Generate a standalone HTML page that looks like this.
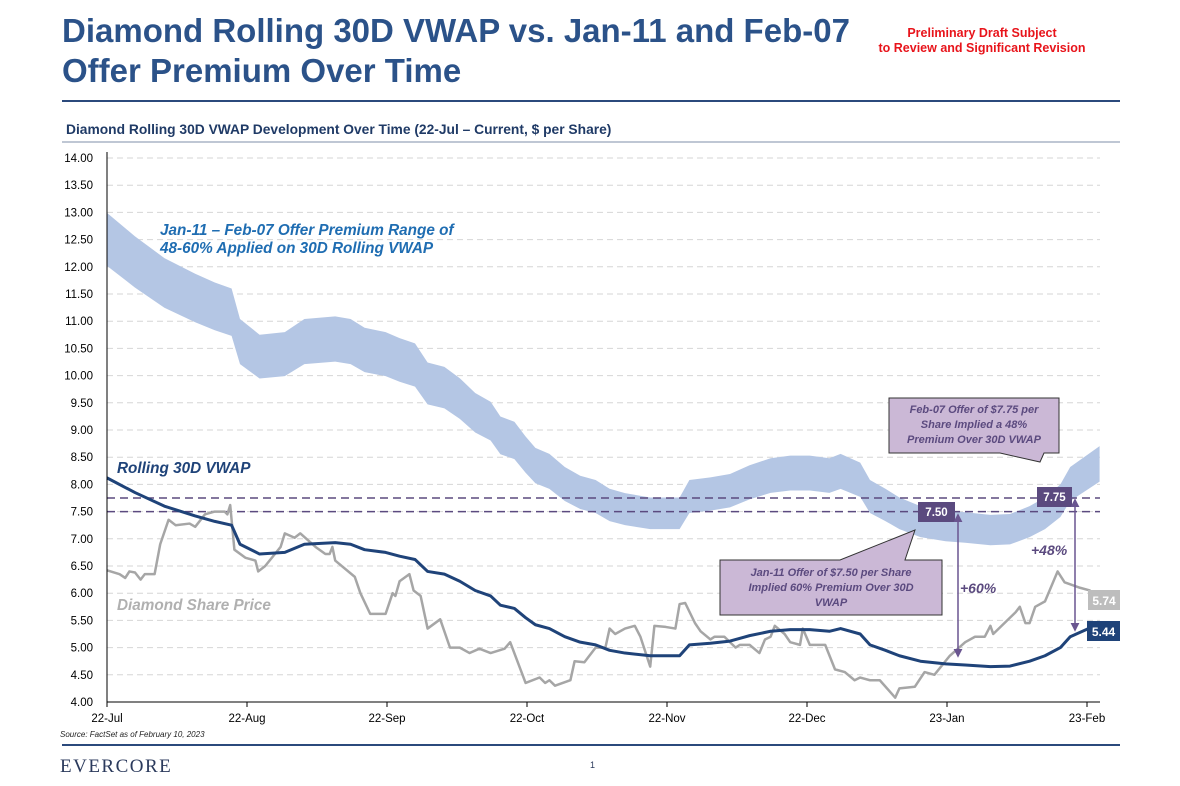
<!DOCTYPE html>
<html><head><meta charset="utf-8"><style>
body{margin:0;background:#fff;font-family:"Liberation Sans",Arial,sans-serif;}
#wrap{position:relative;width:1180px;height:786px;overflow:hidden;}
</style></head><body>
<div id="wrap">
<svg id="svg" width="1180" height="786" xmlns="http://www.w3.org/2000/svg" font-family="Liberation Sans, Arial, sans-serif">
<text x="62" y="42" font-size="33" font-weight="bold" fill="#2b5289">Diamond Rolling 30D VWAP vs. Jan-11 and Feb-07</text>
<text x="62" y="82" font-size="33" font-weight="bold" fill="#2b5289">Offer Premium Over Time</text>
<text x="982" y="37" font-size="12.5" font-weight="bold" fill="#e8141b" text-anchor="middle">Preliminary Draft Subject</text>
<text x="982" y="52" font-size="12.5" font-weight="bold" fill="#e8141b" text-anchor="middle">to Review and Significant Revision</text>
<line x1="62" y1="101" x2="1120" y2="101" stroke="#2b4a7c" stroke-width="2"/>
<text x="66" y="134" font-size="13.8" font-weight="bold" fill="#1f3a66">Diamond Rolling 30D VWAP Development Over Time (22-Jul – Current, $ per Share)</text>
<line x1="62" y1="142" x2="1120" y2="142" stroke="#7f8fa8" stroke-width="1"/>
<g id="grid"></g><g id="band"></g><g id="lines"></g><g id="axes"></g><g id="ann"></g>
<text x="60" y="737" font-size="8" font-style="italic" fill="#222">Source: FactSet as of February 10, 2023</text>
<line x1="62" y1="745" x2="1120" y2="745" stroke="#2b4a7c" stroke-width="2"/>
<text x="60" y="772" font-size="19" font-family="Liberation Serif, serif" letter-spacing="1.5" fill="#2b3a5c">EVERCORE</text>
<text x="590" y="768" font-size="9" fill="#2b3a5c">1</text>
</svg>
</div>
<script>
const tickLabels=["22-Jul","22-Aug","22-Sep","22-Oct","22-Nov","22-Dec","23-Jan","23-Feb"];
const yTicks=[4,4.5,5,5.5,6,6.5,7,7.5,8,8.5,9,9.5,10,10.5,11,11.5,12,12.5,13,13.5,14];
const vwapT=[0,.2,.41,.63,.77,.89,.95,1.09,1.27,1.41,1.63,1.74,1.84,1.99,2.09,2.2,2.29,2.41,2.52,2.63,2.74,2.81,2.91,2.99,3.06,3.16,3.27,3.38,3.49,3.59,3.7,3.88,4.09,4.16,4.31,4.45,4.59,4.74,4.88,5.02,5.16,5.24,5.38,5.45,5.56,5.66,5.81,5.99,6.13,6.31,6.45,6.59,6.7,6.81,6.88,7.09];
const vwapV=[8.12,7.85,7.6,7.42,7.32,7.25,6.9,6.72,6.75,6.9,6.93,6.9,6.8,6.75,6.68,6.62,6.4,6.35,6.22,6.05,5.95,5.78,5.72,5.55,5.42,5.35,5.2,5.1,5.05,4.95,4.9,4.85,4.85,5.05,5.08,5.12,5.22,5.3,5.33,5.33,5.3,5.35,5.25,5.05,4.95,4.85,4.75,4.7,4.68,4.65,4.66,4.75,4.85,5.0,5.2,5.44];
const priceT=[0,.09,.13,.16,.2,.24,.27,.34,.38,.44,.49,.59,.63,.7,.77,.84,.86,.88,.91,.99,1.06,1.08,1.13,1.24,1.27,1.34,1.38,1.49,1.56,1.59,1.61,1.63,1.77,1.81,1.88,1.99,2.04,2.06,2.09,2.16,2.19,2.24,2.29,2.38,2.45,2.52,2.59,2.66,2.74,2.84,2.88,2.99,3.09,3.13,3.16,3.2,3.31,3.34,3.41,3.49,3.56,3.59,3.63,3.7,3.77,3.81,3.88,3.91,3.99,4.06,4.09,4.13,4.2,4.24,4.31,4.34,4.41,4.49,4.52,4.59,4.66,4.7,4.74,4.77,4.84,4.88,4.95,4.97,5.02,5.13,5.2,5.27,5.34,5.38,5.45,5.52,5.63,5.66,5.77,5.84,5.91,6.02,6.13,6.2,6.27,6.31,6.33,6.41,6.49,6.52,6.56,6.59,6.63,6.7,6.79,6.84,6.95,7.02,7.09];
const priceV=[6.42,6.35,6.28,6.4,6.38,6.25,6.35,6.35,6.9,7.35,7.25,7.28,7.22,7.45,7.5,7.5,7.45,7.62,6.8,6.65,6.6,6.4,6.5,6.85,7.1,7.02,7.1,6.85,6.72,6.72,6.85,6.6,6.3,6.0,5.62,5.62,6.0,5.95,6.22,6.35,6.05,5.95,5.35,5.52,5.0,5.0,4.9,4.98,4.9,4.98,5.1,4.35,4.45,4.35,4.4,4.3,4.4,4.75,4.73,5.0,5.0,5.35,5.25,5.35,5.4,5.2,4.65,5.4,5.38,5.35,5.8,5.82,5.45,5.3,5.15,5.2,5.2,5.0,5.05,5.05,4.9,5.15,5.2,5.4,5.25,5.1,5.05,5.35,5.05,5.05,4.6,4.55,4.4,4.45,4.4,4.4,4.08,4.25,4.28,4.55,4.5,4.85,5.1,5.2,5.2,5.4,5.25,5.45,5.65,5.75,5.45,5.45,5.75,5.85,6.4,6.2,6.1,6.05,5.74];
const premiumLow=0.48, premiumHigh=0.60;
const offers=[7.50,7.75];

const NS="http://www.w3.org/2000/svg";
const X0=107,XW=140,Y0=702,YS=54.4;
const xs=t=>X0+t*XW, ys=v=>Y0-(v-4)*YS;
function mk(tag,attrs,parent,text){const e=document.createElementNS(NS,tag);for(const k in attrs)e.setAttribute(k,attrs[k]);if(text!==undefined)e.textContent=text;document.getElementById(parent).appendChild(e);return e;}
yTicks.forEach(v=>{
  if(v>4){const g=mk('line',{x1:X0,x2:1100,y1:ys(v),y2:ys(v),stroke:'#d6d6d6','stroke-dasharray':'6,4'},'grid');
  
  }
  const l=mk('text',{x:93,y:ys(v)+4,'font-size':11.5,'text-anchor':'end',fill:'#000'},'axes',v.toFixed(2));
  
  
});
const ax=mk('line',{x1:X0,x2:X0,y1:152,y2:Y0,stroke:'#000','stroke-width':1},'axes');


const bx=mk('line',{x1:X0,x2:1100,y1:Y0,y2:Y0,stroke:'#000','stroke-width':1},'axes');


tickLabels.forEach((s,i)=>{
  mk('line',{x1:xs(i),x2:xs(i),y1:Y0,y2:Y0+5,stroke:'#000'},'axes');
  const l=mk('text',{x:xs(i),y:Y0+20,'font-size':11.5,'text-anchor':'middle',fill:'#000'},'axes',s);
  
  
});
let up=vwapT.map((t,i)=>xs(t)+','+ys(vwapV[i]*(1+premiumHigh)));
let lo=vwapT.map((t,i)=>xs(t)+','+ys(vwapV[i]*(1+premiumLow))).reverse();
const band=mk('polygon',{points:up.concat(lo).join(' '),fill:'#b4c6e4'},'band');


offers.forEach(o=>{
  const d=mk('line',{x1:X0,x2:1100,y1:ys(o),y2:ys(o),stroke:'#5b4a7f','stroke-width':1.5,'stroke-dasharray':'8,5'},'lines');
  
  
});
const pl=mk('polyline',{points:priceT.map((t,i)=>xs(t)+','+ys(priceV[i])).join(' '),fill:'none',stroke:'#a6a6a6','stroke-width':2.5,'stroke-linejoin':'round'},'lines');


const vl=mk('polyline',{points:vwapT.map((t,i)=>xs(t)+','+ys(vwapV[i])).join(' '),fill:'none',stroke:'#1f4379','stroke-width':3,'stroke-linejoin':'round'},'lines');


</script>
<svg style="position:absolute;left:0;top:0" width="1180" height="786" xmlns="http://www.w3.org/2000/svg" font-family="Liberation Sans, Arial, sans-serif">
<defs><marker id="ar" viewBox="0 0 10 10" refX="8" refY="5" markerWidth="6" markerHeight="6" orient="auto-start-reverse"><path d="M0,0 L10,5 L0,10 z" fill="#6a5590"/></marker></defs>
<text x="160" y="235" font-size="15.3" font-weight="bold" font-style="italic" fill="#1f6db2">Jan-11 – Feb-07 Offer Premium Range of</text>
<text x="160" y="253" font-size="15.3" font-weight="bold" font-style="italic" fill="#1f6db2">48-60% Applied on 30D Rolling VWAP</text>
<text x="117" y="473" font-size="15.3" font-weight="bold" font-style="italic" fill="#1f4379">Rolling 30D VWAP</text>
<text x="117" y="610" font-size="15.3" font-weight="bold" font-style="italic" fill="#b0b0b0">Diamond Share Price</text>
<path d="M889,398 H1059 V453 H1044 L1040,462 L1000,453 H889 Z" fill="#cbb8d6" stroke="#333" stroke-width="1"/>
<text x="974" y="413" font-size="11" font-weight="bold" font-style="italic" fill="#5b4a7f" text-anchor="middle">Feb-07 Offer of $7.75 per</text>
<text x="974" y="428" font-size="11" font-weight="bold" font-style="italic" fill="#5b4a7f" text-anchor="middle">Share Implied a 48%</text>
<text x="974" y="443" font-size="11" font-weight="bold" font-style="italic" fill="#5b4a7f" text-anchor="middle">Premium Over 30D VWAP</text>
<path d="M720,560 H840 L915,530 L905,560 H942 V615 H720 Z" fill="#cbb8d6" stroke="#333" stroke-width="1"/>
<text x="831" y="576" font-size="11" font-weight="bold" font-style="italic" fill="#5b4a7f" text-anchor="middle">Jan-11 Offer of $7.50 per Share</text>
<text x="831" y="591" font-size="11" font-weight="bold" font-style="italic" fill="#5b4a7f" text-anchor="middle">Implied 60% Premium Over 30D</text>
<text x="831" y="606" font-size="11" font-weight="bold" font-style="italic" fill="#5b4a7f" text-anchor="middle">VWAP</text>
<rect x="918" y="502" width="37" height="20" fill="#5b4a7f"/>
<text x="936.5" y="516" font-size="11.5" font-weight="bold" fill="#fff" text-anchor="middle">7.50</text>
<rect x="1037" y="487" width="35" height="20" fill="#5b4a7f"/>
<text x="1054.5" y="501" font-size="11.5" font-weight="bold" fill="#fff" text-anchor="middle">7.75</text>
<line x1="958" y1="515" x2="958" y2="656" stroke="#6a5590" stroke-width="1.5" marker-start="url(#ar)" marker-end="url(#ar)"/>
<line x1="1075" y1="500" x2="1075" y2="630" stroke="#6a5590" stroke-width="1.5" marker-start="url(#ar)" marker-end="url(#ar)"/>
<text x="960" y="593" font-size="14" font-weight="bold" font-style="italic" fill="#5b4a7f">+60%</text>
<text x="1031" y="555" font-size="14" font-weight="bold" font-style="italic" fill="#5b4a7f">+48%</text>
<rect x="1088" y="590" width="32" height="20" fill="#bdbdbd"/>
<text x="1104" y="605" font-size="12" font-weight="bold" fill="#fff" text-anchor="middle">5.74</text>
<rect x="1087" y="621" width="33" height="20" fill="#1f4379"/>
<text x="1103.5" y="636" font-size="12" font-weight="bold" fill="#fff" text-anchor="middle">5.44</text>
</svg>
</body></html>
